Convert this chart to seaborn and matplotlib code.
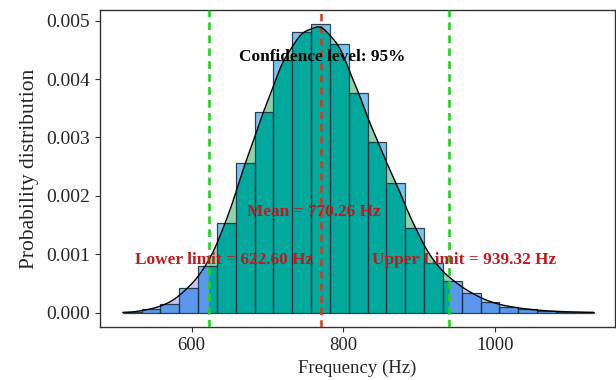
import numpy as np
import pandas as pd
import matplotlib
matplotlib.use("Agg")
import matplotlib.pyplot as plt
from matplotlib.patches import Rectangle
import seaborn as sns

# ---- data ----
bin_density = [0.000005, 0.000058, 0.000155, 0.000418, 0.000800, 0.001531, 0.002558,
               0.003442, 0.004327, 0.004801, 0.004943, 0.004596, 0.003757, 0.002928,
               0.002226, 0.001445, 0.000850, 0.000548, 0.000332, 0.000178, 0.000103,
               0.000058, 0.000030, 0.000015, 0.000008]
data_min = 509.0
data_max = 1130.0
n_bins = 25
mean_freq = 770.26
lower_limit = 622.60
upper_limit = 939.32
x_ticks = [600, 800, 1000]
y_ticks = [0.000, 0.001, 0.002, 0.003, 0.004, 0.005]

bin_width = (data_max - data_min) / n_bins
bin_centers = data_min + bin_width * (np.arange(n_bins) + 0.5)
df = pd.DataFrame({"freq": bin_centers, "density": bin_density})

# ---- style ----
sns.set_style("ticks")
plt.rcParams["font.family"] = ["Liberation Serif", "DejaVu Serif"]

light_blue = "#7AC3EC"
light_green = "#8ED2AC"
lavender = "#C9C4F0"
teal = "#00A99C"
cornflower = "#5B97EA"
edge_col = "#1E3442"
green_line = "#1ED21E"
red_line = "#D8381A"
text_red = "#C4161C"

fig, ax = plt.subplots(figsize=(6.16, 3.8), dpi=100)
fig.subplots_adjust(left=0.1623, right=0.998, bottom=0.1395, top=0.9737)

# histogram (light blue)
sns.histplot(data=df, x="freq", weights="density", bins=n_bins,
             binrange=(data_min, data_max), stat="count", color=light_blue,
             alpha=1, edgecolor="none", linewidth=0, ax=ax, zorder=1)
bars = list(ax.patches)

# KDE curve
sns.kdeplot(data=df, x="freq", weights="density", bw_adjust=0.28, cut=3,
            clip=(data_min, data_max), color="black", linewidth=1.0,
            ax=ax, zorder=5)
kx, ky = ax.lines[-1].get_data()

# fill under the curve: lavender outside CI, light green inside CI
ax.fill_between(kx, 0, ky, color=lavender, linewidth=0, zorder=0.5)
g = ax.fill_between(kx, 0, ky, color=light_green, linewidth=0, zorder=0.6)
g.set_clip_path(Rectangle((lower_limit, -1), upper_limit - lower_limit, 2,
                          transform=ax.transData))

# overlap of bars and curve
for b in bars:
    x0 = b.get_x()
    w = b.get_width()
    h = b.get_height()
    c = ax.fill_between(kx, 0, ky, color=cornflower, linewidth=0, zorder=2)
    c.set_clip_path(b)
    lo = max(x0, lower_limit)
    hi = min(x0 + w, upper_limit)
    if hi > lo:
        t = ax.fill_between(kx, 0, ky, color=teal, linewidth=0, zorder=2.1)
        t.set_clip_path(Rectangle((lo, 0), hi - lo, h, transform=ax.transData))

# bar edges
sns.histplot(data=df, x="freq", weights="density", bins=n_bins,
             binrange=(data_min, data_max), stat="count", fill=False,
             color=edge_col, linewidth=0.9, alpha=0.9, ax=ax, zorder=3)

# reference lines
dash = (0, (2.9, 2.0))
ax.axvline(lower_limit, color=green_line, linestyle=dash, linewidth=1.9, zorder=4)
ax.axvline(upper_limit, color=green_line, linestyle=dash, linewidth=1.9, zorder=4)
ax.axvline(mean_freq, color=red_line, linestyle=dash, linewidth=1.8, zorder=4)

# annotations
fs_ann = 12.4
ax.text(772.4, 0.00438, "Confidence level: 95%", ha="center", va="center",
        fontsize=fs_ann, fontweight="bold", color="black", zorder=6)
ax.text(761, 0.00173, f"Mean = {mean_freq:.2f} Hz", ha="center", va="center",
        fontsize=fs_ann, fontweight="bold", color=text_red, zorder=6)
ax.text(643, 0.00090, f"Lower limit = {lower_limit:.2f} Hz", ha="center", va="center",
        fontsize=fs_ann, fontweight="bold", color=text_red, zorder=6)
ax.text(959, 0.00090, f"Upper Limit = {upper_limit:.2f} Hz", ha="center", va="center",
        fontsize=fs_ann, fontweight="bold", color=text_red, zorder=6)

ax.set_xlim(479, 1158)
ax.set_ylim(-0.000245, 0.005183)
ax.set_xticks(x_ticks)
ax.set_yticks(y_ticks)
ax.set_yticklabels([f"{v:.3f}" for v in y_ticks])
ax.set_xlabel("Frequency (Hz)", fontsize=13.5)
ax.set_ylabel("Probability distribution", fontsize=15.5, labelpad=5)
ax.tick_params(axis="both", labelsize=13.5, direction="out", length=3.5,
               width=0.8, color="#333333")
ax.tick_params(axis="y", labelsize=14)
for s in ax.spines.values():
    s.set_visible(True)
    s.set_color("#333333")
    s.set_linewidth(1.0)

fig.savefig("out.png", dpi=100)
